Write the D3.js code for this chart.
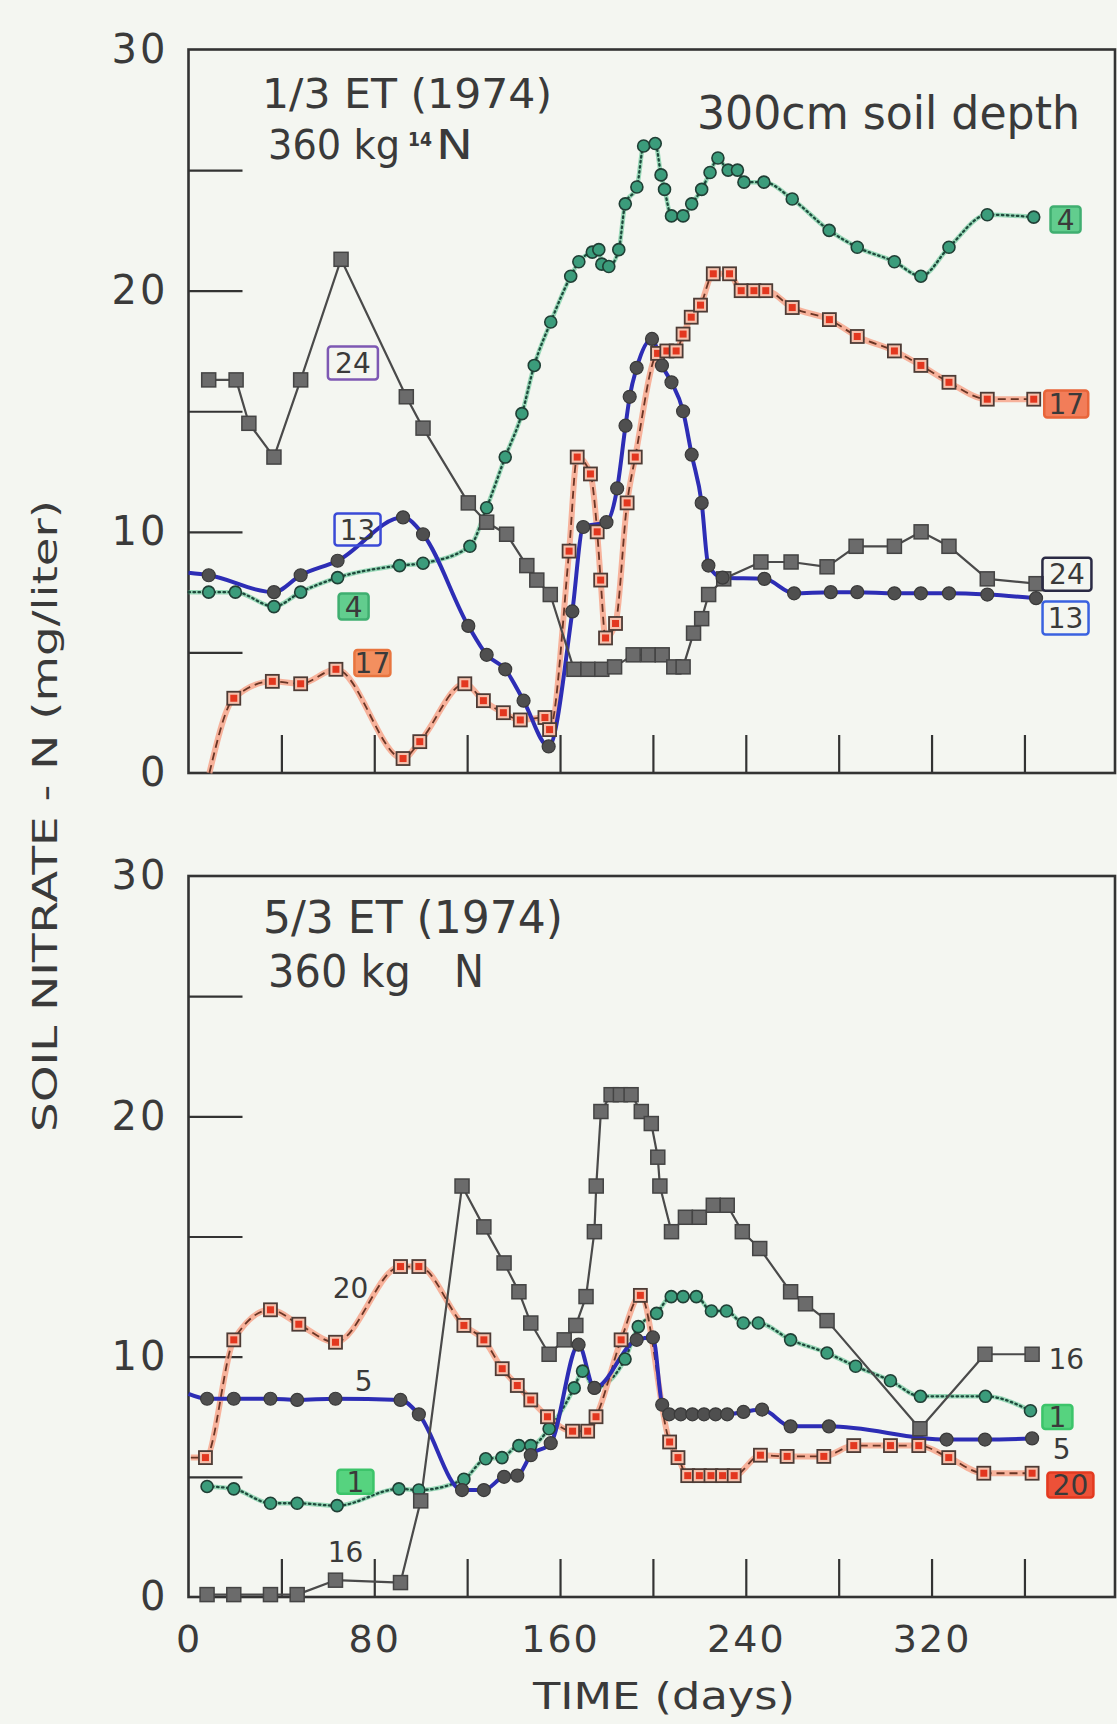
<!DOCTYPE html>
<html><head><meta charset="utf-8">
<script src="https://cdn.jsdelivr.net/npm/d3@7"></script>
<style>
html,body{margin:0;padding:0;background:#f4f6f1;}
svg{display:block;}
text{font-family:"DejaVu Sans",sans-serif;fill:#3a3a3a;}
</style></head><body>
<svg id="chart" width="1117" height="1724"></svg>
<script>
// ---------- DATA (day, mg/liter) ----------
// Top panel: 1/3 ET (1974), 360 kg 14N
const top24 = [[8.7,16.3],[20.5,16.3],[26,14.5],[36.8,13.1],[48.3,16.3],[65.7,21.3],[93.8,15.6],[101,14.3],[120.5,11.2],[128.4,10.4],[137,9.9],[145.7,8.6],[150,8.0],[155.8,7.4],[166,4.3],[172,4.3],[178,4.3],[183.5,4.4],[191.5,4.9],[198,4.9],[204,4.9],[209,4.4],[213,4.4],[217.5,5.8],[221,6.4],[224,7.4],[230.5,8.05],[246.5,8.75],[259.5,8.75],[275,8.55],[287.5,9.4],[304,9.4],[315.5,10.0],[327.5,9.4],[344,8.05],[365,7.85]];
const top13 = [[0,8.3],[8.7,8.2],[36.8,7.5],[48.3,8.2],[64.2,8.8],[92.4,10.6],[101,9.9],[120.5,6.1],[128.4,4.9],[136.4,4.3],[144.3,3.0],[155.1,1.1],[165.3,6.7],[170,10.2],[180,10.4],[184.6,11.8],[188.2,14.4],[190,15.6],[193,16.8],[199.6,18.0],[203.9,16.9],[208,16.2],[213,15.0],[216.7,13.2],[221,11.2],[223.9,8.6],[230,8.1],[248,8.05],[260.8,7.45],[276.6,7.5],[288,7.5],[304,7.45],[315.4,7.45],[327.5,7.45],[344,7.4],[365,7.25]];
const top4 = [[0,7.5],[8.7,7.5],[20.2,7.5],[36.8,6.9],[48.3,7.5],[64.2,8.1],[90.9,8.6],[101,8.7],[121.2,9.4],[128.4,11.0],[136.4,13.1],[143.6,14.9],[148.9,16.9],[156,18.7],[164.6,20.6],[168.1,21.2],[173.9,21.6],[176.7,21.7],[178,21.1],[181,21.0],[185.3,21.7],[188.1,23.6],[193.1,24.3],[196,26.0],[201,26.1],[203.5,24.8],[205,24.2],[208,23.1],[213,23.1],[216.7,23.6],[221,24.2],[224.6,24.9],[228,25.5],[232.4,25.0],[236.4,25.0],[239.2,24.5],[247.8,24.5],[260,23.8],[275.9,22.5],[288,21.8],[304,21.2],[315.4,20.6],[327.5,21.8],[344,23.15],[364,23.05]];
const top17 = [[9,0],[19.5,3.1],[36.1,3.8],[48.3,3.7],[63.5,4.3],[92.4,0.6],[99.6,1.3],[119,3.7],[127,3.0],[135.6,2.5],[142.9,2.2],[153.5,2.3],[155.5,1.8],[163.9,9.2],[167.4,13.1],[173.1,12.4],[176,10.0],[177.5,8.0],[179.6,5.6],[183.9,6.2],[188.9,11.2],[192.4,13.1],[202,17.4],[206,17.5],[210,17.5],[213,18.2],[216.5,18.9],[220.5,19.4],[226,20.7],[233,20.7],[238,20.0],[243.5,20.0],[248.6,20.0],[260,19.3],[276,18.8],[288,18.1],[304,17.5],[315.4,16.9],[327.5,16.2],[344,15.5],[364,15.5]];

// Bottom panel: 5/3 ET (1974), 360 kg N
const bot16 = [[8,0.1],[19.5,0.1],[35.3,0.1],[46.8,0.1],[63.3,0.7],[91.3,0.6],[100,4.0],[117.8,17.1],[127.2,15.4],[135.9,13.9],[142.3,12.7],[147.4,11.4],[155.3,10.1],[161.8,10.7],[166.8,11.3],[171.2,12.5],[174.8,15.2],[175.6,17.1],[177.6,20.2],[182,20.9],[186,20.9],[190.6,20.9],[195,20.2],[199.3,19.7],[202.1,18.3],[203,17.1],[208,15.2],[214,15.8],[220,15.8],[226,16.3],[232,16.3],[238.5,15.2],[246,14.5],[259.3,12.7],[265.7,12.2],[275,11.5],[315,7.0],[343,10.1],[363.3,10.1]];
const bot5 = [[0,8.45],[8,8.25],[19.5,8.25],[35.3,8.25],[46.8,8.2],[63.3,8.25],[91.3,8.2],[99.2,7.6],[117.8,4.45],[127.2,4.45],[135.9,5.0],[141.6,5.05],[147.4,5.9],[156,6.4],[168,10.5],[174.8,8.7],[193,10.7],[200,10.8],[204,8.0],[207,7.6],[212,7.6],[217,7.6],[222,7.6],[227,7.6],[232,7.6],[239,7.7],[247,7.8],[259.3,7.1],[275.8,7.1],[326.5,6.55],[343,6.55],[363.3,6.6]];
const bot1 = [[8,4.6],[19.5,4.5],[35.3,3.9],[46.8,3.9],[64,3.8],[90.6,4.5],[99.2,4.45],[118.6,4.9],[128,5.75],[135,5.8],[142.3,6.3],[147.4,6.3],[155.3,7.0],[166.1,8.7],[169.7,9.4],[174.8,8.7],[188,9.9],[193.7,11.25],[201.6,11.8],[207.9,12.5],[213,12.5],[218.7,12.5],[225.2,11.9],[231.7,11.9],[238.9,11.4],[245.4,11.4],[259.3,10.7],[275,10.15],[287.3,9.6],[302.3,9.0],[315.2,8.35],[343.2,8.35],[362.6,7.75]];
const bot20 = [[1,5.8],[7.3,5.8],[19.5,10.7],[35.3,11.95],[47.5,11.35],[63.3,10.6],[91.3,13.75],[99.2,13.75],[118.6,11.3],[127.2,10.7],[135.1,9.5],[141.6,8.8],[147.4,8.2],[154.6,7.5],[165.4,6.9],[171.9,6.9],[175.5,7.5],[186.3,10.7],[194.6,12.55],[207.2,6.45],[210.8,5.8],[215,5.05],[220,5.05],[225,5.05],[230,5.05],[235,5.05],[246.3,5.9],[257.8,5.85],[273.6,5.85],[286.5,6.3],[302.3,6.3],[314.5,6.3],[327.4,5.8],[342.5,5.15],[363.3,5.15]];

// Tick values / labels
const yLabelTicks = [0,10,20,30];
const yMinorTicks = [5,10,15,20,25];
const xMinorTicks = [40,80,120,160,200,240,280,320,360];
const xLabelTicks = [0,80,160,240,320];

// Curve labels (text, day, value, kind)
const topLabels = [
  {t:"24", d:70.8, v:17.0, kind:"box", stroke:"#7d58b3", fill:"none", w:50, h:33},
  {t:"13", d:72.8, v:10.1, kind:"box", stroke:"#3a4ad6", fill:"none", w:46, h:32},
  {t:"4",  d:71.1, v:6.9,  kind:"box", stroke:"#3fae70", fill:"#52c983", w:30, h:26},
  {t:"17", d:79.2, v:4.56, kind:"box", stroke:"#e8753f", fill:"#f3844f", w:36, h:26},
  {t:"4",  d:377.7, v:22.95, kind:"box", stroke:"#3fae70", fill:"#52c983", w:30, h:26},
  {t:"17", d:378, v:15.3, kind:"box", stroke:"#e8653a", fill:"#f27048", w:44, h:27},
  {t:"24", d:378.3, v:8.24, kind:"box", stroke:"#2a2a44", fill:"none", w:49, h:33},
  {t:"13", d:377.7, v:6.43, kind:"box", stroke:"#3a62e0", fill:"none", w:46, h:33}
];
const botLabels = [
  {t:"20", d:69.8, v:12.86, kind:"text"},
  {t:"5",  d:75.4, v:8.99, kind:"text"},
  {t:"1",  d:71.9, v:4.8, kind:"box", stroke:"#3cc46a", fill:"#45cf72", w:36, h:24},
  {t:"16", d:67.6, v:1.87, kind:"text"},
  {t:"16", d:378, v:9.9, kind:"text"},
  {t:"1",  d:374.2, v:7.49, kind:"box", stroke:"#3cc46a", fill:"#45cf72", w:30, h:24},
  {t:"5",  d:376, v:6.16, kind:"text"},
  {t:"20", d:379.8, v:4.66, kind:"box", stroke:"#e33a20", fill:"#ec3f24", w:46, h:25}
];

// ---------- DRAW ----------
const svg = d3.select("#chart");
const x = d3.scaleLinear().domain([0,399]).range([188.5,1115]);

const panels = [
  {y: d3.scaleLinear().domain([0,30]).range([773,49.5]),
   gray: top24, blue: top13, green: top4, red: top17, labels: topLabels, xlabels:false},
  {y: d3.scaleLinear().domain([0,30]).range([1597,876]),
   gray: bot16, blue: bot5, green: bot1, red: bot20, labels: botLabels, xlabels:true}
];

const showMarker = d => d[0] > 2 && d[1] > 0.05;

panels.forEach(p => {
  const y = p.y;
  const g = svg.append("g");

  g.append("rect")
    .attr("x", x(0)).attr("y", y(30))
    .attr("width", x(399)-x(0)).attr("height", y(0)-y(30))
    .attr("fill","none").attr("stroke","#333").attr("stroke-width",2.6);

  const yMinor = g.append("g").attr("transform",`translate(${x(0)},0)`)
    .call(d3.axisLeft(y).tickValues(yMinorTicks).tickSize(-54).tickFormat(""));
  yMinor.select(".domain").remove();
  yMinor.selectAll("line").attr("stroke","#333").attr("stroke-width",2.2);

  const yLab = g.append("g").attr("transform",`translate(${x(0)},0)`)
    .call(d3.axisLeft(y).tickValues(yLabelTicks).tickSize(0).tickPadding(20));
  yLab.select(".domain").remove();
  yLab.selectAll("text").attr("font-size",40).attr("fill","#3a3a3a")
    .style("font-family","DejaVu Sans").attr("letter-spacing",3);

  const xMinor = g.append("g").attr("transform",`translate(0,${y(0)})`)
    .call(d3.axisBottom(x).tickValues(xMinorTicks).tickSize(-38).tickFormat(""));
  xMinor.select(".domain").remove();
  xMinor.selectAll("line").attr("stroke","#333").attr("stroke-width",2.2);

  if (p.xlabels) {
    const xLab = g.append("g").attr("transform",`translate(0,${y(0)})`)
      .call(d3.axisBottom(x).tickValues(xLabelTicks).tickSize(0).tickPadding(28));
    xLab.select(".domain").remove();
    xLab.selectAll("text").attr("font-size",38).attr("fill","#3a3a3a")
      .style("font-family","DejaVu Sans").attr("letter-spacing",2);
  }

  const lineLin = d3.line().x(d=>x(d[0])).y(d=>y(d[1]));
  const lineSmooth = d3.line().x(d=>x(d[0])).y(d=>y(d[1])).curve(d3.curveMonotoneX);

  g.append("path").attr("d", lineSmooth(p.green)).attr("fill","none")
    .attr("stroke","#4fc088").attr("stroke-width",4.5).attr("stroke-opacity",0.55);
  g.append("path").attr("d", lineSmooth(p.green)).attr("fill","none")
    .attr("stroke","#1d4a3c").attr("stroke-width",2.3).attr("stroke-dasharray","1.5 3.5")
    .attr("stroke-linecap","round");
  g.append("path").attr("d", lineSmooth(p.red)).attr("fill","none")
    .attr("stroke","#f7a68c").attr("stroke-width",6).attr("stroke-opacity",0.85);
  g.append("path").attr("d", lineSmooth(p.red)).attr("fill","none")
    .attr("stroke","#6a3525").attr("stroke-width",1.8).attr("stroke-dasharray","8 5");
  g.append("path").attr("d", lineSmooth(p.blue)).attr("fill","none")
    .attr("stroke","#2d2db5").attr("stroke-width",4).attr("stroke-linejoin","round");
  g.append("path").attr("d", lineLin(p.gray)).attr("fill","none")
    .attr("stroke","#4a4a4a").attr("stroke-width",2.2).attr("stroke-linejoin","round");

  g.append("g").selectAll("circle").data(p.green.filter(showMarker)).join("circle")
    .attr("cx",d=>x(d[0])).attr("cy",d=>y(d[1])).attr("r",6)
    .attr("fill","#3b9c7b").attr("stroke","#203f35").attr("stroke-width",1.6);

  const rg = g.append("g").selectAll("g").data(p.red.filter(showMarker)).join("g");
  rg.append("rect").attr("x",d=>x(d[0])-6.5).attr("y",d=>y(d[1])-6.5)
    .attr("width",13).attr("height",13)
    .attr("fill","#f6c1ad").attr("stroke","#4d3b35").attr("stroke-width",1.8);
  rg.append("rect").attr("x",d=>x(d[0])-3.5).attr("y",d=>y(d[1])-3.5)
    .attr("width",7).attr("height",7).attr("fill","#e3371f");

  g.append("g").selectAll("rect").data(p.gray.filter(showMarker)).join("rect")
    .attr("x",d=>x(d[0])-7).attr("y",d=>y(d[1])-7)
    .attr("width",14).attr("height",14)
    .attr("fill","#6b6b6b").attr("stroke","#444").attr("stroke-width",1.5);

  g.append("g").selectAll("circle").data(p.blue.filter(showMarker)).join("circle")
    .attr("cx",d=>x(d[0])).attr("cy",d=>y(d[1])).attr("r",6.5)
    .attr("fill","#4f4f4f").attr("stroke","#3a3a3a").attr("stroke-width",1.2);

  const lg = g.append("g").selectAll("g").data(p.labels).join("g")
    .attr("transform", d=>`translate(${x(d.d)},${y(d.v)})`);
  lg.filter(d=>d.kind==="box").append("rect")
    .attr("x",d=>-d.w/2).attr("y",d=>-d.h/2).attr("width",d=>d.w).attr("height",d=>d.h)
    .attr("rx",3).attr("fill",d=>d.fill).attr("fill-opacity",d=>d.fill==="none"?0:0.9)
    .attr("stroke",d=>d.stroke).attr("stroke-width",2.5);
  lg.append("text").text(d=>d.t).attr("text-anchor","middle").attr("dy","0.36em")
    .attr("font-size",28).attr("fill","#333");
});

// ---------- TITLES ----------
function txt(s, xx, yy, size, len, opts={}) {
  const t = svg.append("text").attr("x",xx).attr("y",yy).attr("font-size",size).text(s);
  if (len) t.attr("textLength",len).attr("lengthAdjust","spacingAndGlyphs");
  if (opts.fill) t.attr("fill",opts.fill);
  if (opts.weight) t.attr("font-weight",opts.weight);
  if (opts.anchor) t.attr("text-anchor",opts.anchor);
  return t;
}
txt("1/3 ET (1974)", 262, 108, 41, 290);
txt("360 kg", 268, 159, 41, 132);
txt("14", 408, 146, 20, 24, {fill:"#2424d0", weight:"bold"});
txt("N", 436, 159, 41, 37);
txt("300cm soil depth", 697, 129, 46, 383);

txt("5/3 ET (1974)", 263, 933, 44, 300);
txt("360 kg", 268, 987, 44, 143);
txt("N", 454, 987, 44, 30);

txt("TIME (days)", 664, 1709, 38, 262, {anchor:"middle"});
svg.append("text").attr("transform","translate(57,816) rotate(-90)")
  .attr("text-anchor","middle").attr("font-size",33)
  .attr("textLength",632).attr("lengthAdjust","spacingAndGlyphs")
  .text("SOIL NITRATE - N (mg/liter)");
</script>
</body></html>
